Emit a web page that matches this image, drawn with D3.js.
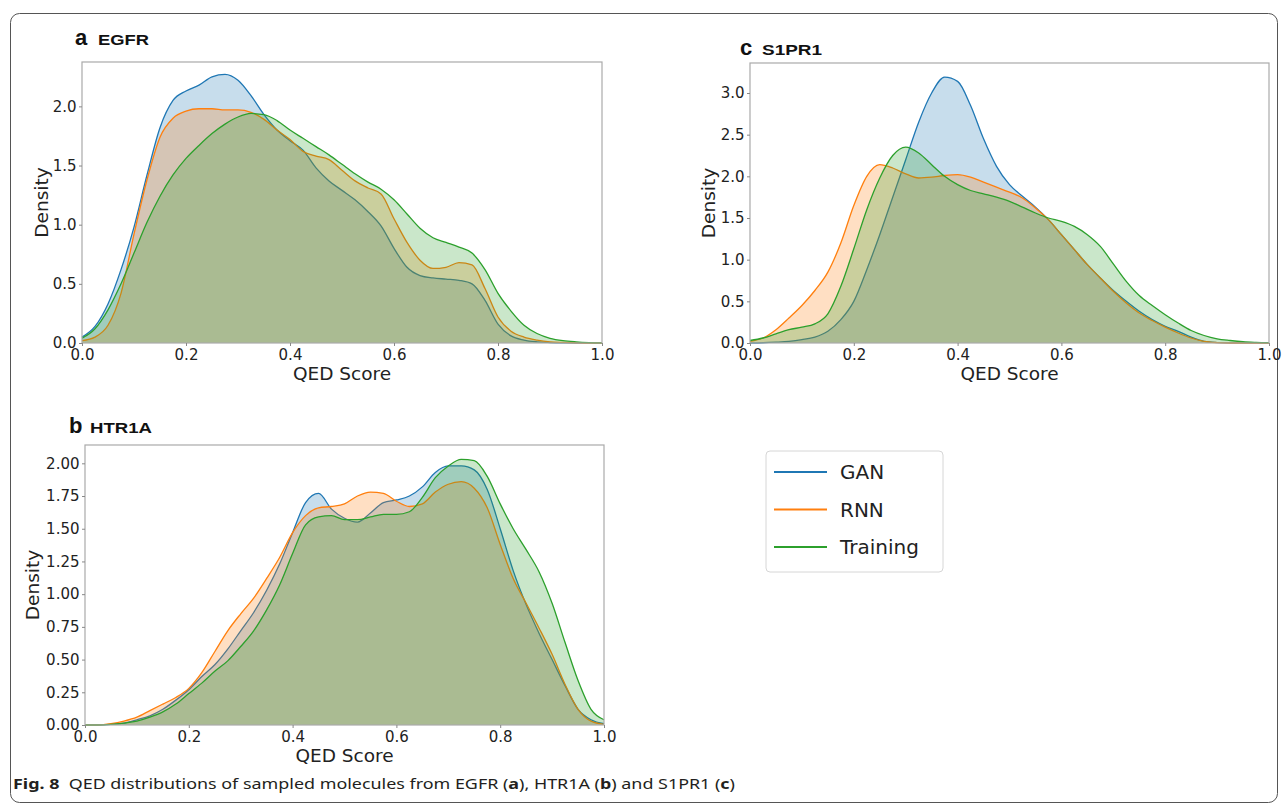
<!DOCTYPE html>
<html>
<head>
<meta charset="utf-8">
<script src="https://cdn.jsdelivr.net/npm/d3@7"></script>
<style>
  body { margin: 0; background: #fff; }
  svg { display: block; }
</style>
</head>
<body>
<div id="chart"></div>
<script>
// QED score grid the densities were read at
const qedX = [0.000, 0.025, 0.050, 0.075, 0.100, 0.125, 0.150, 0.175, 0.200, 0.225,
              0.250, 0.275, 0.300, 0.325, 0.350, 0.375, 0.400, 0.425, 0.450, 0.475,
              0.500, 0.525, 0.550, 0.575, 0.600, 0.625, 0.650, 0.675, 0.700, 0.725,
              0.750, 0.775, 0.800, 0.825, 0.850, 0.875, 0.900, 0.925, 0.950, 0.975, 1.000];

// panel a - EGFR
const egfrGAN = [0.05, 0.14, 0.33, 0.62, 0.98, 1.42, 1.82, 2.05, 2.13, 2.18,
                 2.25, 2.27, 2.22, 2.09, 1.93, 1.80, 1.71, 1.63, 1.48, 1.37,
                 1.29, 1.21, 1.11, 0.99, 0.80, 0.64, 0.57, 0.55, 0.54, 0.53,
                 0.50, 0.36, 0.16, 0.06, 0.025, 0.01, 0.004, 0.001, 0, 0, 0];
const egfrRNN = [0.02, 0.05, 0.15, 0.42, 0.92, 1.38, 1.74, 1.90, 1.96, 1.98,
                 1.98, 1.97, 1.97, 1.95, 1.89, 1.80, 1.72, 1.62, 1.58, 1.55,
                 1.46, 1.37, 1.31, 1.26, 1.05, 0.85, 0.70, 0.63, 0.64, 0.68,
                 0.66, 0.46, 0.22, 0.10, 0.05, 0.025, 0.01, 0.005, 0.002, 0, 0];
const egfrTraining = [0.04, 0.12, 0.28, 0.50, 0.76, 1.02, 1.24, 1.42, 1.56, 1.67,
                      1.77, 1.85, 1.91, 1.94, 1.93, 1.88, 1.80, 1.73, 1.66, 1.59,
                      1.51, 1.43, 1.36, 1.30, 1.21, 1.09, 0.97, 0.89, 0.85, 0.81,
                      0.76, 0.62, 0.42, 0.27, 0.15, 0.08, 0.04, 0.02, 0.01, 0.004, 0.001];

// panel b - HTR1A
const htr1aGAN = [0, 0, 0.005, 0.015, 0.04, 0.07, 0.12, 0.19, 0.27, 0.37,
                  0.46, 0.58, 0.72, 0.86, 1.03, 1.23, 1.47, 1.70, 1.77, 1.65,
                  1.58, 1.55, 1.62, 1.70, 1.72, 1.75, 1.82, 1.93, 1.98, 1.98,
                  1.95, 1.80, 1.50, 1.18, 0.92, 0.70, 0.50, 0.30, 0.12, 0.04, 0.01];
const htr1aRNN = [0, 0, 0.01, 0.03, 0.06, 0.11, 0.16, 0.21, 0.28, 0.40,
                  0.56, 0.72, 0.85, 0.97, 1.12, 1.28, 1.47, 1.60, 1.66, 1.67,
                  1.69, 1.75, 1.78, 1.77, 1.71, 1.67, 1.69, 1.78, 1.84, 1.86,
                  1.81, 1.66, 1.38, 1.12, 0.93, 0.74, 0.54, 0.31, 0.12, 0.03, 0.005];
const htr1aTraining = [0, 0, 0.005, 0.015, 0.03, 0.06, 0.10, 0.16, 0.24, 0.32,
                       0.41, 0.49, 0.60, 0.72, 0.88, 1.07, 1.31, 1.53, 1.59, 1.60,
                       1.57, 1.57, 1.59, 1.61, 1.61, 1.63, 1.74, 1.89, 1.98, 2.03,
                       2.02, 1.90, 1.69, 1.50, 1.34, 1.17, 0.93, 0.63, 0.34, 0.12, 0.04];

// panel c - S1PR1
const s1pr1GAN = [0, 0.003, 0.01, 0.02, 0.04, 0.07, 0.14, 0.28, 0.50, 0.88,
                  1.30, 1.75, 2.20, 2.65, 3.00, 3.19, 3.14, 2.85, 2.45, 2.12,
                  1.90, 1.76, 1.63, 1.48, 1.30, 1.12, 0.94, 0.78, 0.63, 0.50,
                  0.38, 0.28, 0.20, 0.14, 0.07, 0.02, 0.005, 0, 0, 0, 0];
const s1pr1RNN = [0.02, 0.06, 0.16, 0.30, 0.45, 0.63, 0.85, 1.20, 1.65, 2.00,
                  2.14, 2.10, 2.03, 1.98, 1.99, 2.01, 2.02, 1.99, 1.93, 1.87,
                  1.81, 1.74, 1.62, 1.48, 1.30, 1.12, 0.94, 0.78, 0.62, 0.48,
                  0.36, 0.27, 0.19, 0.12, 0.06, 0.02, 0.005, 0, 0, 0, 0];
const s1pr1Training = [0.03, 0.06, 0.11, 0.16, 0.19, 0.23, 0.35, 0.68, 1.13, 1.60,
                       1.98, 2.25, 2.35, 2.28, 2.14, 2.00, 1.90, 1.83, 1.79, 1.75,
                       1.70, 1.63, 1.56, 1.50, 1.46, 1.40, 1.30, 1.16, 0.95, 0.74,
                       0.57, 0.45, 0.34, 0.24, 0.15, 0.09, 0.05, 0.03, 0.015, 0.008, 0.004];

const seriesNames = ["GAN", "RNN", "Training"];
const seriesColors = ["#1f77b4", "#ff7f0e", "#2ca02c"];

const xTicks = [0, 0.2, 0.4, 0.6, 0.8, 1.0];
const egfrTicks = [0, 0.5, 1.0, 1.5, 2.0];
const htr1aTicks = [0, 0.25, 0.5, 0.75, 1.0, 1.25, 1.5, 1.75, 2.0];
const s1pr1Ticks = [0, 0.5, 1.0, 1.5, 2.0, 2.5, 3.0];

const tickFont = "'DejaVu Sans', sans-serif";
const titleFont = "'Liberation Sans', Arial, sans-serif";

const svg = d3.select("#chart")
  .append("svg")
    .attr("width", 1285)
    .attr("height", 805);

svg.append("rect")
  .attr("width", 1285).attr("height", 805)
  .attr("fill", "#fff");

// rounded frame round the whole figure
svg.append("rect")
  .attr("x", 10.5).attr("y", 13.5)
  .attr("width", 1267).attr("height", 789)
  .attr("rx", 9)
  .attr("fill", "none")
  .attr("stroke", "#555")
  .attr("stroke-width", 1);

const panels = [
  {letter: "a", name: "EGFR", series: [egfrGAN, egfrRNN, egfrTraining], ticks: egfrTicks, fmt: ".1f",
   left: 82, right: 602, top: 62, bottom: 343, yMax: 2.375,
   titleX: 75, titleY: 45, nameX: 98, nameLen: 51, labelX: 48},
  {letter: "c", name: "S1PR1", series: [s1pr1GAN, s1pr1RNN, s1pr1Training], ticks: s1pr1Ticks, fmt: ".1f",
   left: 750, right: 1269, top: 63, bottom: 343, yMax: 3.36,
   titleX: 740, titleY: 55, nameX: 762, nameLen: 60, labelX: 715},
  {letter: "b", name: "HTR1A", series: [htr1aGAN, htr1aRNN, htr1aTraining], ticks: htr1aTicks, fmt: ".2f",
   left: 85, right: 604, top: 445, bottom: 725, yMax: 2.14,
   titleX: 69, titleY: 433, nameX: 90, nameLen: 62, labelX: 39}
];

panels.forEach(drawPanel);

function drawPanel(p) {
  const x = d3.scaleLinear().domain([0, 1]).range([p.left, p.right]);
  const y = d3.scaleLinear().domain([0, p.yMax]).range([p.bottom, p.top]);
  const g = svg.append("g");

  const area = d3.area()
    .x((d, i) => x(qedX[i]))
    .y0(y(0))
    .y1(d => y(d))
    .curve(d3.curveMonotoneX);
  const line = d3.line()
    .x((d, i) => x(qedX[i]))
    .y(d => y(d))
    .curve(d3.curveMonotoneX);

  // fill then line, one series after the other (seaborn shade style)
  p.series.forEach((vals, k) => {
    g.append("path").datum(vals)
      .attr("d", area)
      .attr("fill", seriesColors[k])
      .attr("fill-opacity", 0.25);
    g.append("path").datum(vals)
      .attr("d", line)
      .attr("fill", "none")
      .attr("stroke", seriesColors[k])
      .attr("stroke-width", 1.3);
  });

  g.append("rect")
    .attr("x", p.left).attr("y", p.top)
    .attr("width", p.right - p.left).attr("height", p.bottom - p.top)
    .attr("fill", "none")
    .attr("stroke", "#aaa")
    .attr("stroke-width", 1.2);

  const xAxis = g.append("g")
    .attr("transform", `translate(0,${p.bottom})`)
    .call(d3.axisBottom(x).tickValues(xTicks).tickFormat(d3.format(".1f")).tickSize(3).tickPadding(3));
  const yAxis = g.append("g")
    .attr("transform", `translate(${p.left},0)`)
    .call(d3.axisLeft(y).tickValues(p.ticks).tickFormat(d3.format(p.fmt)).tickSize(3).tickPadding(2.5));

  [xAxis, yAxis].forEach(a => {
    a.select(".domain").remove();
    a.selectAll(".tick line").attr("stroke", "#888");
    a.selectAll("text")
      .attr("fill", "#222")
      .style("font-family", tickFont)
      .style("font-size", "15px");
  });

  g.append("text")
    .attr("x", (p.left + p.right) / 2)
    .attr("y", p.bottom + 37)
    .attr("text-anchor", "middle")
    .style("font-family", tickFont)
    .style("font-size", "18.5px")
    .attr("fill", "#222")
    .text("QED Score");

  g.append("text")
    .attr("transform", `translate(${p.labelX},${(p.top + p.bottom) / 2}) rotate(-90)`)
    .attr("text-anchor", "middle")
    .style("font-family", tickFont)
    .style("font-size", "18.5px")
    .attr("fill", "#222")
    .text("Density");

  // panel title
  g.append("text")
    .attr("x", p.titleX).attr("y", p.titleY)
    .style("font-family", titleFont)
    .style("font-size", "22px")
    .style("font-weight", "bold")
    .attr("fill", "#111")
    .text(p.letter);
  g.append("text")
    .attr("x", p.nameX).attr("y", p.titleY)
    .attr("textLength", p.nameLen)
    .attr("lengthAdjust", "spacingAndGlyphs")
    .style("font-family", titleFont)
    .style("font-size", "14.5px")
    .style("font-weight", "bold")
    .attr("fill", "#111")
    .text(p.name);
}

// legend
const legend = svg.append("g");
legend.append("rect")
  .attr("x", 766).attr("y", 451)
  .attr("width", 177).attr("height", 121)
  .attr("rx", 4)
  .attr("fill", "#fff")
  .attr("stroke", "#d6d6d6");
seriesNames.forEach((name, k) => {
  const ly = 472 + k * 37.5;
  legend.append("line")
    .attr("x1", 774).attr("x2", 827)
    .attr("y1", ly).attr("y2", ly)
    .attr("stroke", seriesColors[k])
    .attr("stroke-width", 1.8);
  legend.append("text")
    .attr("x", 840).attr("y", ly)
    .attr("dy", "0.36em")
    .style("font-family", tickFont)
    .style("font-size", "20px")
    .attr("fill", "#222")
    .text(name);
});

// caption
const caption = svg.append("text")
  .attr("x", 13).attr("y", 789)
  .attr("textLength", 722)
  .attr("lengthAdjust", "spacingAndGlyphs")
  .style("font-family", "'Noto Sans', 'Open Sans', sans-serif")
  .style("font-size", "15px")
  .attr("fill", "#231f20");
const capParts = [
  ["Fig. 8", true], ["  QED distributions of sampled molecules from EGFR (", false], ["a", true],
  ["), HTR1A (", false], ["b", true], [") and S1PR1 (", false], ["c", true], [")", false]
];
capParts.forEach(([t, b]) => {
  caption.append("tspan")
    .style("font-weight", b ? "bold" : "normal")
    .style("white-space", "pre")
    .text(t);
});
</script>
</body>
</html>
